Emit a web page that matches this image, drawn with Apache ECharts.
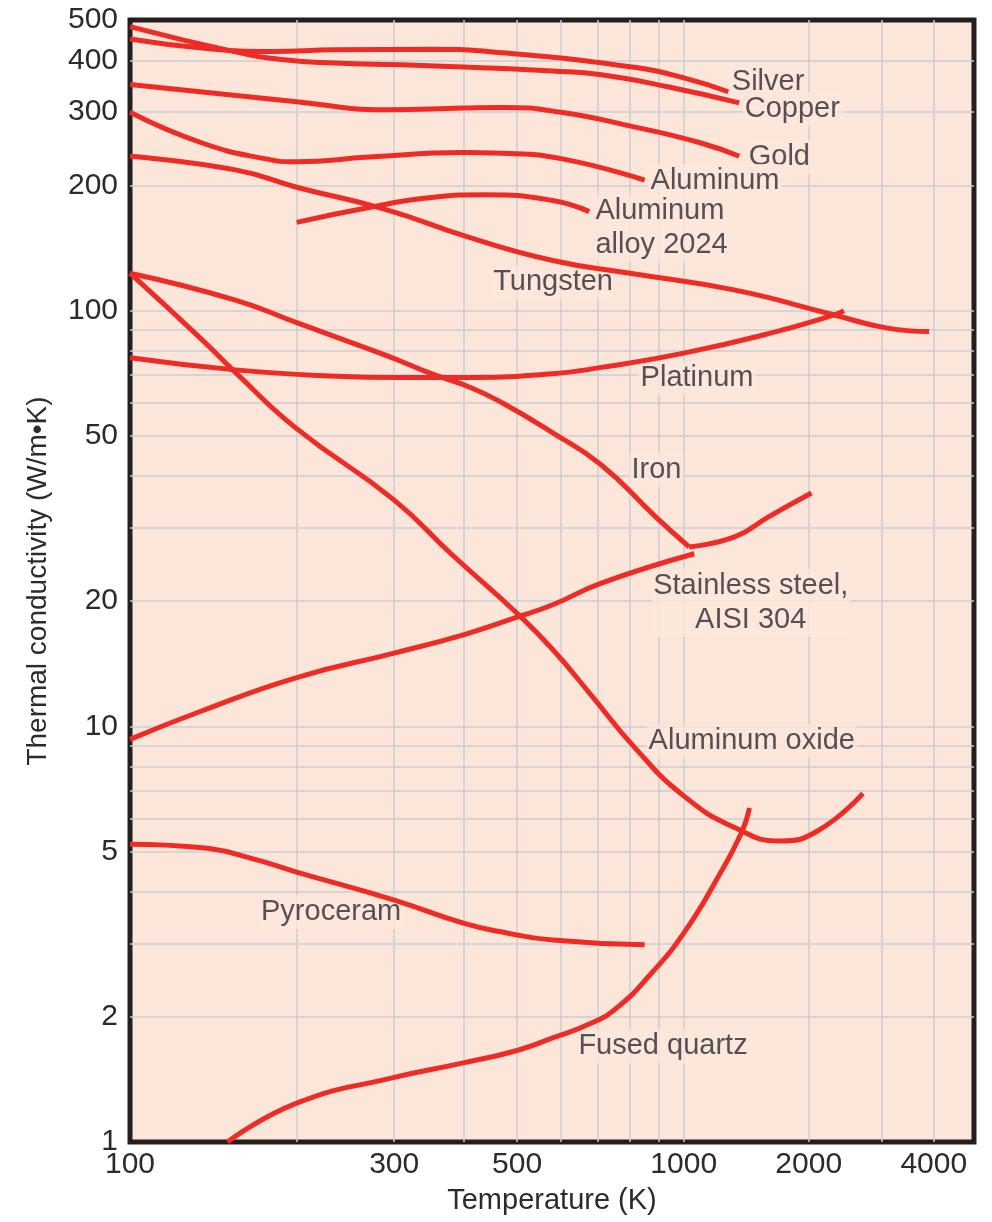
<!DOCTYPE html>
<html>
<head>
<meta charset="utf-8">
<script src="https://cdn.jsdelivr.net/npm/echarts@6/dist/echarts.min.js"></script>
<style>
  html, body { margin: 0; padding: 0; background: #fff; }
  #chart { width: 992px; height: 1222px; }
</style>
</head>
<body>
<div id="chart"></div>
<script>
// [temperature (K), thermal conductivity (W/m·K)]
const silver = [[100, 450], [135, 428], [180, 420], [235, 424], [350, 425], [470, 417], [800, 386], [1000, 363], [1280, 336]];
const copper = [[100, 482], [155, 419], [190, 401], [235, 394], [310, 390], [410, 385], [580, 377], [710, 369], [940, 345], [1360, 316]];
const gold = [[100, 350], [200, 318], [290, 304], [400, 307], [470, 308], [600, 300], [810, 277], [1100, 253], [1360, 235]];
const aluminum = [[100, 300], [135, 253], [175, 232], [200, 228], [270, 234], [400, 240], [470, 239], [600, 232], [850, 206]];
const alloy2024 = [[200, 163], [270, 177], [350, 187], [440, 190], [580, 184], [675, 173]];
const tungsten = [[100, 235], [155, 218], [200, 198], [290, 175], [410, 150], [580, 132], [800, 123], [1330, 112], [2270, 98], [3050, 91], [3900, 89]];
const platinum = [[100, 77], [155, 72], [230, 69.6], [310, 69], [400, 69], [580, 70.5], [710, 73], [1000, 79], [1600, 88], [2300, 97.6], [2430, 100]];
const ironLow = [[100, 123], [155, 106], [200, 93.5], [290, 78], [350, 70.5], [410, 65.5], [470, 60], [580, 50.8], [710, 42.5], [890, 31.9], [1030, 27]];
const ironHigh = [[1030, 27], [1330, 28.6], [1600, 31.9], [2030, 36.4]];
const stainless = [[100, 9.3], [135, 10.9], [200, 13.1], [300, 15], [400, 16.6], [500, 18.3], [580, 19.6], [710, 22.1], [1060, 26]];
const aluminumOxide = [[100, 123], [135, 85], [155, 71], [200, 52], [300, 35], [380, 26], [500, 18.7], [580, 15.3], [680, 11.9], [815, 8.9], [1000, 6.8], [1330, 5.7], [1700, 5.3], [2100, 5.6], [2700, 6.9]];
const pyroceram = [[100, 5.2], [135, 5.1], [165, 4.82], [200, 4.46], [300, 3.82], [400, 3.36], [470, 3.2], [580, 3.06], [850, 2.98]];
const fusedQuartz = [[150, 1], [200, 1.24], [300, 1.43], [400, 1.55], [500, 1.66], [580, 1.78], [680, 1.93], [760, 2.11], [875, 2.55], [1000, 3.18], [1210, 4.34], [1380, 5.57], [1440, 6.36]];

const xTickLabels = [100, 300, 500, 1000, 2000, 4000];
const xGridValues = [200, 300, 400, 500, 600, 700, 800, 900, 1000, 2000, 3000, 4000];
const yTickLabels = [1, 2, 5, 10, 20, 50, 100, 200, 300, 400, 500];
const yGridValues = [2, 3, 4, 5, 6, 7, 8, 9, 10, 20, 30, 40, 50, 60, 70, 80, 90, 100, 200, 300, 400];

// curve names, placed at [T, k]
const notes = [
  ["Silver", 1291, 355, "left"],
  ["Copper", 1387, 305, "left"],
  ["Gold", 1418, 234, "left"],
  ["Aluminum", 864, 205, "left"],
  ["Aluminum\nalloy 2024", 687, 158, "left"],
  ["Tungsten", 449, 117, "left"],
  ["Platinum", 829, 68.9, "left"],
  ["Iron", 798, 41.4, "left"],
  ["Stainless steel,\nAISI 304", 1450, 19.8, "center"],
  ["Aluminum oxide", 857, 9.22, "left"],
  ["Pyroceram", 171, 3.57, "left"],
  ["Fused quartz", 640, 1.7, "left"],
];

// log temperature axis, squeezed to 3/4 above 1000 K like the original
const HIGH = 0.75;
const tx = (t) => (t <= 1000 ? Math.log10(t) : 3 + HIGH * Math.log10(t / 1000));
const untx = (u) => (u <= 3 ? Math.pow(10, u) : 1000 * Math.pow(10, (u - 3) / HIGH));
const ty = (k) => Math.log10(k);
const toXY = (pts) => pts.map(([t, k]) => [tx(t), ty(k)]);

const FONT = "'Liberation Sans', Arial, sans-serif";
const INK = "#2b2a33";
const BG = "#fce6da";
const RED = "#ee2b24";

const curves = [silver, copper, gold, aluminum, alloy2024, tungsten, platinum,
  ironLow, ironHigh, stainless, aluminumOxide, pyroceram, fusedQuartz];

const lineSeries = curves.map((pts) => ({
  type: "line",
  data: toXY(pts),
  smooth: 0.5,
  showSymbol: false,
  silent: true,
  lineStyle: { color: RED, width: 5, cap: "butt" },
  z: 3,
}));

const noteSeries = {
  type: "scatter",
  symbolSize: 0,
  silent: true,
  z: 2,
  data: notes.map(([name, t, k, align]) => ({
    name,
    value: [tx(t), ty(k)],
    label: align === "center" ? { position: "inside", align: "center" } : {},
  })),
  label: {
    show: true,
    position: "right",
    distance: 0,
    formatter: "{b}",
    color: INK,
    fontFamily: FONT,
    fontSize: 29,
    lineHeight: 34,
    backgroundColor: BG,
    padding: [0, 2],
  },
};

const chart = echarts.init(document.getElementById("chart"));
chart.setOption({
  animation: false,
  backgroundColor: "#fff",
  grid: {
    left: 130, right: 18, top: 20, bottom: 80,
    show: true,
    backgroundColor: BG,
    borderColor: "#231f20",
    borderWidth: 5,
  },
  xAxis: {
    type: "value",
    min: tx(100),
    max: tx(5000),
    name: "Temperature (K)",
    nameLocation: "middle",
    nameGap: 44,
    nameTextStyle: { color: INK, fontFamily: FONT, fontSize: 29 },
    axisLine: { show: false },
    axisTick: { show: false, customValues: xGridValues.map(tx) },
    axisLabel: {
      customValues: xTickLabels.map(tx),
      formatter: (v) => String(Math.round(untx(v))),
      color: INK, fontFamily: FONT, fontSize: 30, margin: 8,
    },
    splitLine: { show: true, lineStyle: { color: "#cccdd3", width: 1.5 } },
  },
  yAxis: {
    type: "value",
    min: 0,
    max: ty(500),
    name: "Thermal conductivity (W/m•K)",
    nameLocation: "middle",
    nameGap: 78,
    nameTextStyle: { color: INK, fontFamily: FONT, fontSize: 28 },
    axisLine: { show: false },
    axisTick: { show: false, customValues: yGridValues.map(ty) },
    axisLabel: {
      customValues: yTickLabels.map(ty),
      formatter: (v) => String(Math.round(Math.pow(10, v))),
      color: INK, fontFamily: FONT, fontSize: 30, margin: 12,
    },
    splitLine: { show: true, lineStyle: { color: "#cccdd3", width: 1.5 } },
  },
  series: [...lineSeries, noteSeries],
});
</script>
</body>
</html>
